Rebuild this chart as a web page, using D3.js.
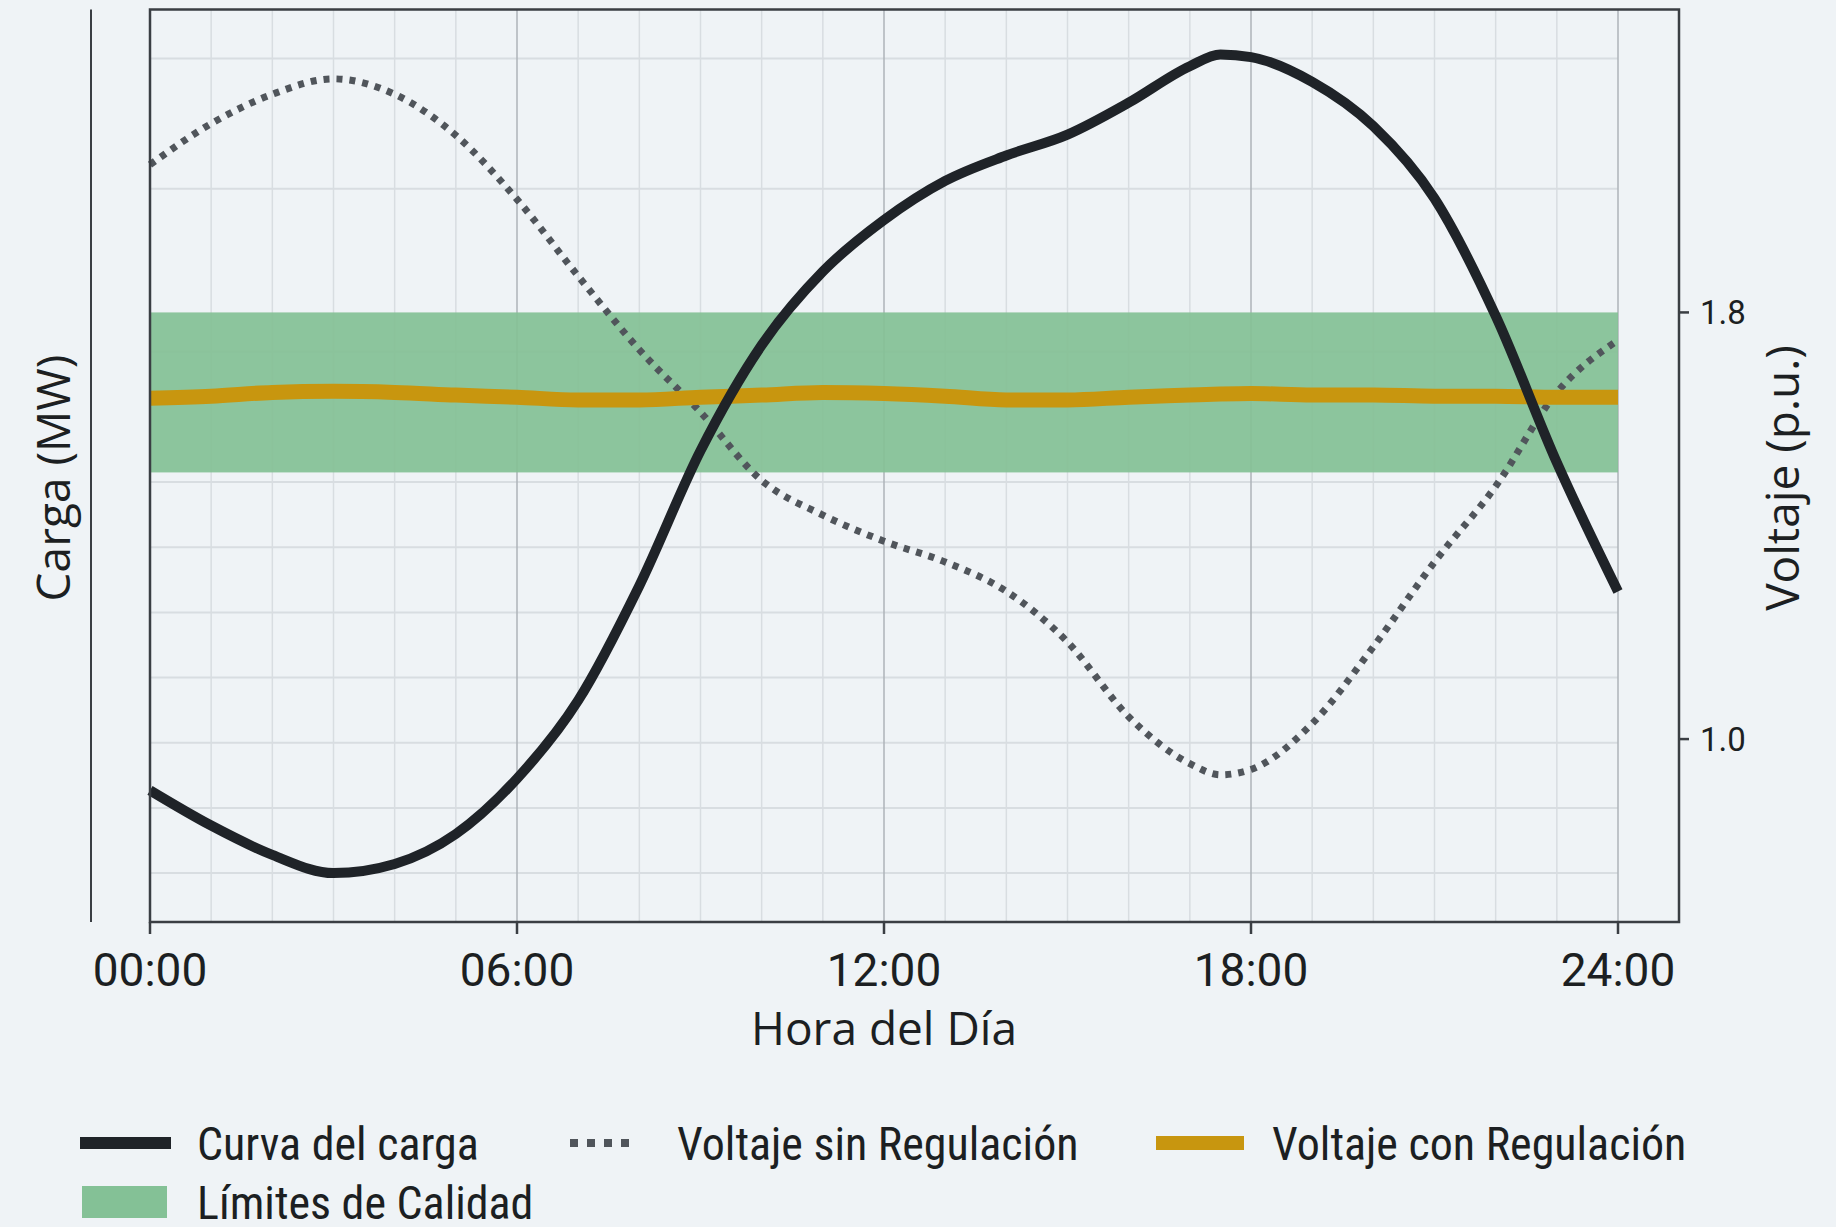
<!DOCTYPE html>
<html>
<head>
<meta charset="utf-8">
<script src="https://cdn.jsdelivr.net/npm/d3@7.9.0/dist/d3.min.js"></script>
<style>
  html, body { margin: 0; padding: 0; background: #eff3f6; }
  svg { display: block; }
  .tick-label { font-family: Roboto, "Open Sans", sans-serif; fill: #1c1f22; }
  .axis-title { font-family: "Open Sans", "Noto Sans", sans-serif; fill: #1c1f22; }
  .legend-text { font-family: "Liberation Sans Narrow", "Roboto Condensed", "DejaVu Sans Condensed", Roboto, sans-serif; fill: #1c1f22; }
</style>
</head>
<body>
<svg id="chart" width="1836" height="1227"></svg>
<script>
// hours of the day
const hours = [0, 1, 2, 3, 4, 5, 6, 7, 8, 9, 10, 11, 12, 13, 14, 15, 16, 17, 17.5, 18, 19, 20, 21, 22, 23, 24];
// load curve (MW, hidden left axis)
const cargaMW = [12.7, 7.3, 2.8, 0.0, 1.4, 6.0, 14.5, 26.5, 44.1, 64.8, 81.0, 92.3, 100.2, 106.2, 110.1, 113.3, 118.2, 123.8, 125.6, 125.2, 121.4, 114.6, 103.5, 85.5, 63.0, 43.2];
// voltage without regulation (p.u.)
const voltSinReg = [2.077, 2.154, 2.209, 2.238, 2.209, 2.132, 2.012, 1.868, 1.730, 1.613, 1.485, 1.420, 1.371, 1.332, 1.277, 1.182, 1.042, 0.954, 0.933, 0.943, 1.029, 1.173, 1.332, 1.474, 1.650, 1.748];
// voltage with regulation (p.u.)
const voltConReg = [1.639, 1.643, 1.650, 1.652, 1.650, 1.645, 1.641, 1.636, 1.636, 1.641, 1.645, 1.650, 1.648, 1.643, 1.636, 1.636, 1.641, 1.645, 1.647, 1.648, 1.645, 1.645, 1.643, 1.643, 1.641, 1.641];
// quality band limits (p.u.)
const limites = [1.5, 1.8];

const xTicks = [0, 6, 12, 18, 24];
const xTickLabels = ['00:00', '06:00', '12:00', '18:00', '24:00'];
const vTicks = [1.0, 1.8];
const cargaGrid = [0, 10, 20, 30, 40, 50, 60, 80, 105, 125];

const legendItems = ['Curva del carga', 'Voltaje sin Regulación', 'Voltaje con Regulación', 'Límites de Calidad'];

const colors = {
  carga: '#1f2328',
  sinReg: '#50555b',
  conReg: '#c8960f',
  band: '#84c196',
  grid: '#d8dde1',
  gridMajor: '#aeb3b8',
  frame: '#3a3e43'
};

const frame = { left: 150, right: 1679, top: 9.5, bottom: 922 };

const svg = d3.select('#chart');

const x = d3.scaleLinear().domain([0, 24]).range([frame.left, 1618]);
const yCarga = d3.scaleLinear().domain([-7.5, 132.5]).range([frame.bottom, frame.top]);
const yVolt = d3.scaleLinear().domain([0.657, 2.368]).range([frame.bottom, frame.top]);

// grid
const grid = svg.append('g');
grid.selectAll('line.h')
  .data(cargaGrid)
  .join('line')
  .attr('x1', x(0)).attr('x2', x(24))
  .attr('y1', d => yCarga(d)).attr('y2', d => yCarga(d))
  .attr('stroke', colors.grid).attr('stroke-width', 2);

grid.selectAll('line.v')
  .data(d3.range(1, 25))
  .join('line')
  .attr('x1', d => x(d)).attr('x2', d => x(d))
  .attr('y1', frame.top).attr('y2', frame.bottom)
  .attr('stroke', d => d % 6 === 0 ? colors.gridMajor : colors.grid)
  .attr('stroke-width', 1.5);

// quality band
svg.append('rect')
  .attr('x', x(0))
  .attr('width', x(24) - x(0))
  .attr('y', yVolt(limites[1]))
  .attr('height', yVolt(limites[0]) - yVolt(limites[1]))
  .attr('fill', colors.band)
  .attr('opacity', 0.93);

const lineCarga = d3.line()
  .x((d, i) => x(hours[i]))
  .y(d => yCarga(d))
  .curve(d3.curveMonotoneX);

const lineVolt = d3.line()
  .x((d, i) => x(hours[i]))
  .y(d => yVolt(d))
  .curve(d3.curveMonotoneX);

svg.append('path')
  .attr('d', lineVolt(voltSinReg))
  .attr('fill', 'none')
  .attr('stroke', colors.sinReg)
  .attr('stroke-width', 7)
  .attr('stroke-dasharray', '6 7');

svg.append('path')
  .attr('d', lineVolt(voltConReg))
  .attr('fill', 'none')
  .attr('stroke', colors.conReg)
  .attr('stroke-width', 15);

svg.append('path')
  .attr('d', lineCarga(cargaMW))
  .attr('fill', 'none')
  .attr('stroke', colors.carga)
  .attr('stroke-width', 10)
  .attr('stroke-linecap', 'butt');

// frame
svg.append('rect')
  .attr('x', frame.left).attr('y', frame.top)
  .attr('width', frame.right - frame.left)
  .attr('height', frame.bottom - frame.top)
  .attr('fill', 'none')
  .attr('stroke', colors.frame)
  .attr('stroke-width', 2.5);

// separate left axis line (Carga)
svg.append('line')
  .attr('x1', 91).attr('x2', 91)
  .attr('y1', frame.top).attr('y2', frame.bottom)
  .attr('stroke', colors.frame).attr('stroke-width', 2);

// x axis ticks
const xAxis = svg.append('g');
xTicks.forEach((t, i) => {
  xAxis.append('line')
    .attr('x1', x(t)).attr('x2', x(t))
    .attr('y1', frame.bottom).attr('y2', frame.bottom + 12)
    .attr('stroke', colors.frame).attr('stroke-width', 2.5);
  xAxis.append('text')
    .attr('class', 'tick-label')
    .attr('x', x(t)).attr('y', 986)
    .attr('text-anchor', 'middle')
    .attr('font-size', 46)
    .text(xTickLabels[i]);
});

// right voltage axis ticks
const vAxis = svg.append('g');
vTicks.forEach(t => {
  vAxis.append('line')
    .attr('x1', frame.right).attr('x2', frame.right + 10)
    .attr('y1', yVolt(t)).attr('y2', yVolt(t))
    .attr('stroke', colors.frame).attr('stroke-width', 2.5);
  vAxis.append('text')
    .attr('class', 'tick-label')
    .attr('x', frame.right + 21).attr('y', yVolt(t))
    .attr('dy', '0.36em')
    .attr('font-size', 33)
    .text(d3.format('.1f')(t));
});

// axis titles
svg.append('text')
  .attr('class', 'axis-title')
  .attr('x', x(12)).attr('y', 1045)
  .attr('text-anchor', 'middle')
  .attr('font-size', 46)
  .text('Hora del Día');

svg.append('text')
  .attr('class', 'axis-title')
  .attr('transform', 'translate(53,478) rotate(-90)')
  .attr('text-anchor', 'middle')
  .attr('dy', '0.36em')
  .attr('font-size', 46)
  .text('Carga (MW)');

svg.append('text')
  .attr('class', 'axis-title')
  .attr('transform', 'translate(1782,478) rotate(-90)')
  .attr('text-anchor', 'middle')
  .attr('dy', '0.36em')
  .attr('font-size', 46)
  .text('Voltaje (p.u.)');

// legend
const legend = svg.append('g').attr('class', 'legend');
const legendPos = [
  { sx: 80, sw: 91, tx: 197, y: 1143 },
  { sx: 570, sw: 68, tx: 677, y: 1143 },
  { sx: 1156, sw: 88, tx: 1272, y: 1143 },
  { sx: 82, sw: 85, tx: 197, y: 1202 }
];

legendItems.forEach((label, i) => {
  const p = legendPos[i];
  if (i === 0) {
    legend.append('line').attr('x1', p.sx).attr('x2', p.sx + p.sw).attr('y1', p.y).attr('y2', p.y)
      .attr('stroke', colors.carga).attr('stroke-width', 12);
  } else if (i === 1) {
    legend.append('line').attr('x1', p.sx).attr('x2', p.sx + p.sw).attr('y1', p.y).attr('y2', p.y)
      .attr('stroke', colors.sinReg).attr('stroke-width', 8).attr('stroke-dasharray', '8 9');
  } else if (i === 2) {
    legend.append('line').attr('x1', p.sx).attr('x2', p.sx + p.sw).attr('y1', p.y).attr('y2', p.y)
      .attr('stroke', colors.conReg).attr('stroke-width', 14);
  } else {
    legend.append('rect').attr('x', p.sx).attr('y', p.y - 16).attr('width', p.sw).attr('height', 32)
      .attr('fill', colors.band);
  }
  legend.append('text')
    .attr('class', 'legend-text')
    .attr('x', p.tx).attr('y', p.y)
    .attr('dy', '0.36em')
    .attr('font-size', 46)
    .text(label);
});
</script>
</body>
</html>
